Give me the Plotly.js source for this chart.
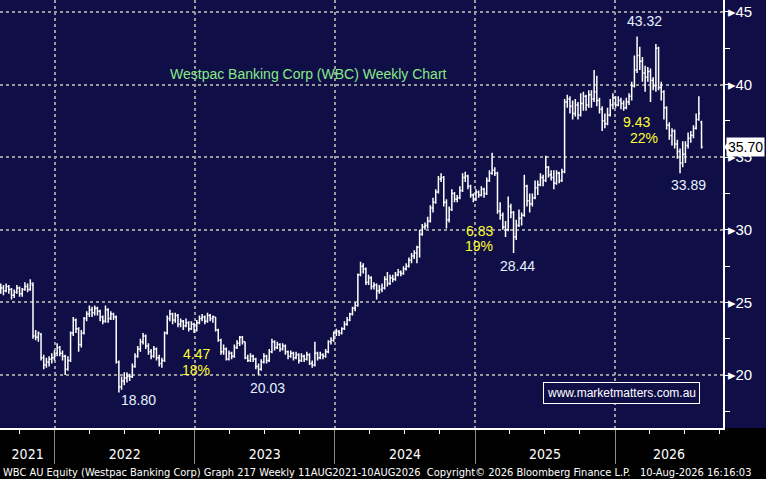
<!DOCTYPE html>
<html>
<head>
<meta charset="utf-8">
<script src="https://cdn.plot.ly/plotly-3.0.1.min.js"></script>
<style>
  html, body { margin: 0; padding: 0; background: #000; }
  #chart { width: 766px; height: 479px; }
</style>
</head>
<body>
<div id="chart"></div>
<script>
// weekly bars, first bar week ending 13 Aug 2021
const firstWeek = '2021-08-13'

const opens = [
  25.8,26.0,25.8,26.1,25.9,25.5,25.7,26.0,25.6,25.9,26.1,25.9,26.2,22.7,22.6,22.8,21.2,20.7,20.9,21.1,
  21.2,21.5,21.9,21.5,21.3,20.4,21.0,22.9,23.8,23.2,22.1,22.9,23.9,24.2,24.5,24.3,24.6,24.4,24.0,23.7,
  24.5,23.9,24.2,24.0,20.9,19.2,19.6,19.8,19.9,19.9,20.6,21.3,21.8,22.3,22.7,22.0,21.6,21.3,21.8,21.2,
  20.8,21.0,22.9,23.9,24.2,23.8,24.1,23.5,23.7,23.4,23.6,23.2,23.5,23.1,23.6,23.9,24.0,23.7,24.1,23.9,
  24.0,23.1,22.4,21.6,21.8,21.1,21.5,21.3,21.9,22.2,22.6,22.3,21.2,21.0,21.3,21.1,20.6,20.4,20.9,21.3,
  21.0,21.6,22.3,21.9,22.1,21.8,22.0,21.6,21.3,21.5,21.2,21.4,21.0,21.3,21.1,21.4,20.8,20.7,21.5,21.2,
  21.4,21.3,21.6,22.3,22.4,22.9,23.0,22.9,23.2,23.5,23.8,24.2,24.6,24.8,26.9,27.5,27.3,26.4,26.7,26.1,
  26.2,25.8,25.9,26.0,26.6,26.3,26.7,26.6,26.9,27.1,27.0,27.3,27.5,27.9,28.2,28.4,28.8,29.7,30.2,30.3,
  30.6,31.5,31.9,32.6,33.5,33.6,31.9,30.7,31.4,32.5,32.1,32.2,32.7,33.6,33.7,33.0,32.4,32.1,32.6,32.4,
  32.8,32.5,33.4,33.9,34.1,33.9,31.3,31.0,30.2,30.0,31.6,31.2,29.5,30.3,30.8,31.0,33.0,32.0,31.8,32.2,
  32.9,33.1,33.6,33.4,34.3,33.8,33.6,33.2,33.9,33.4,34.0,38.8,39.0,38.5,38.0,38.6,37.9,38.7,39.2,38.6,
  39.3,39.0,39.5,38.9,38.3,37.5,37.3,37.9,38.6,39.1,38.6,38.9,38.7,38.4,38.8,39.2,39.9,41.0,42.0,41.6,
  40.8,40.5,40.9,40.3,39.9,42.5,39.8,39.5,38.4,37.2,36.5,36.8,35.9,35.4,34.6,35.2,35.8,36.3,36.5,37.0,
  37.6,37.4
]
const highs = [
  26.3,26.2,26.3,26.2,26.0,25.9,26.2,26.1,26.0,26.4,26.3,26.6,26.4,23.1,23.0,22.9,21.4,21.2,21.3,21.5,
  21.7,22.2,22.0,21.7,21.4,21.3,23.0,24.0,23.9,23.3,23.1,24.0,24.4,24.8,24.7,24.8,24.7,24.5,24.1,24.8,
  24.6,24.4,24.3,24.1,21.0,19.9,20.2,20.2,20.1,20.8,21.5,22.0,22.5,22.9,22.8,22.2,21.8,22.0,21.9,21.4,
  21.2,23.0,24.1,24.5,24.3,24.3,24.2,23.9,23.8,23.9,23.7,23.7,23.6,23.8,24.1,24.2,24.1,24.3,24.2,24.1,
  24.0,23.2,22.5,22.1,21.9,21.7,21.6,22.1,22.4,22.7,22.7,22.3,21.4,21.5,21.4,21.2,20.8,21.1,21.5,21.4,
  21.8,22.5,22.4,22.3,22.2,22.2,22.1,21.7,21.7,21.6,21.6,21.5,21.5,21.4,21.6,21.5,21.0,22.3,21.6,21.6,
  21.5,21.8,22.4,22.6,23.0,23.2,23.1,23.3,23.7,24.0,24.3,24.7,25.0,27.0,27.8,27.7,27.4,26.9,26.8,26.4,
  26.3,26.2,26.3,26.8,27.1,26.9,26.9,27.1,27.3,27.2,27.5,27.7,28.1,28.4,28.6,28.9,30.0,30.4,30.5,30.9,
  31.7,32.2,32.8,33.7,33.9,33.7,32.1,31.6,32.8,32.6,32.4,33.0,33.9,34.0,33.8,33.1,32.5,32.8,32.7,33.0,
  32.9,33.6,34.1,35.3,34.3,34.0,31.9,31.2,30.6,32.3,31.8,31.3,30.7,31.4,31.2,33.8,33.1,32.5,32.5,33.4,
  33.4,33.9,33.8,35.1,34.4,34.1,34.1,34.1,34.0,34.2,39.0,39.3,39.2,38.9,39.0,38.8,39.4,39.5,39.3,39.6,
  39.6,41.0,40.6,39.1,38.5,38.0,38.4,39.0,39.4,39.2,39.2,39.1,38.9,39.1,39.4,40.2,42.0,43.3,42.6,41.9,
  41.3,41.2,41.1,40.5,42.8,42.6,40.2,39.6,38.5,37.4,37.0,36.9,36.2,35.6,36.1,36.1,36.7,36.8,37.2,38.0,
  39.2,37.5
]
const lows = [
  25.6,25.5,25.7,25.6,25.2,25.3,25.6,25.4,25.4,25.8,25.7,25.8,22.5,22.4,22.3,21.0,20.4,20.5,20.6,20.8,
  21.0,21.3,21.3,21.0,20.0,20.3,20.9,22.7,22.9,21.6,21.9,22.8,23.7,24.0,24.0,24.1,24.1,23.7,23.5,23.6,
  23.6,23.8,23.8,20.8,18.8,19.0,19.3,19.5,19.6,19.8,20.5,21.2,21.6,22.1,21.8,21.4,21.1,21.2,21.0,20.6,
  20.5,20.9,22.8,23.7,23.5,23.6,23.3,23.3,23.1,23.3,23.0,23.1,22.9,23.0,23.5,23.7,23.5,23.6,23.7,23.6,
  23.0,22.3,21.4,21.4,21.0,21.0,21.1,21.2,21.8,22.0,22.1,21.1,20.9,20.9,20.9,20.4,20.0,20.3,20.8,20.8,
  20.9,21.5,21.7,21.8,21.6,21.7,21.4,21.1,21.2,21.0,21.1,20.8,20.9,20.9,21.0,20.7,20.5,20.6,21.0,21.1,
  21.1,21.2,21.5,22.1,22.3,22.7,22.7,22.8,23.1,23.4,23.7,24.1,24.4,24.7,26.8,27.0,26.2,26.2,25.9,25.9,
  25.2,25.6,25.7,25.9,26.1,26.2,26.4,26.5,26.8,26.8,26.9,27.2,27.4,27.7,28.0,27.7,28.1,29.6,30.0,30.1,
  30.5,31.2,31.8,32.5,33.3,31.6,30.1,30.5,31.3,31.9,31.9,32.1,32.6,33.3,32.8,32.2,31.9,32.0,32.2,32.3,
  32.2,32.4,33.3,33.8,33.7,31.1,30.7,30.0,29.5,29.9,30.8,28.4,29.3,30.2,30.3,30.9,31.6,31.2,31.6,32.1,
  32.4,33.0,33.0,33.3,33.6,33.4,32.8,33.1,33.2,33.3,33.9,38.4,38.0,37.6,37.8,37.6,37.8,38.2,38.2,38.4,
  38.4,38.8,38.5,38.0,36.8,37.0,37.2,37.8,38.3,38.4,38.5,38.3,38.2,38.3,38.6,38.9,39.8,40.8,41.0,40.2,
  39.5,40.2,38.8,39.6,39.5,39.6,38.9,37.6,36.9,36.2,35.8,35.6,34.9,33.9,34.3,34.6,35.6,36.0,36.3,36.9,
  37.5,35.6
]
const closes = [
  26.0,25.8,26.1,25.9,25.5,25.7,26.0,25.6,25.9,26.1,25.9,26.3,22.7,22.6,22.9,21.2,20.7,20.9,21.1,21.2,
  21.5,21.9,21.5,21.3,20.4,21.0,22.9,23.8,23.2,22.1,22.9,23.9,24.2,24.5,24.3,24.6,24.4,24.0,23.7,24.5,
  23.9,24.2,24.0,20.9,19.2,19.6,19.8,19.9,19.9,20.6,21.3,21.8,22.3,22.7,22.0,21.6,21.3,21.8,21.2,20.8,
  21.0,22.9,23.9,24.2,23.8,24.1,23.5,23.7,23.4,23.6,23.2,23.5,23.1,23.6,23.9,24.0,23.7,24.1,23.9,24.0,
  23.1,22.4,21.6,21.8,21.1,21.5,21.3,21.9,22.2,22.6,22.3,21.2,21.0,21.3,21.1,20.6,20.4,20.9,21.3,21.0,
  21.6,22.3,21.9,22.1,21.8,22.0,21.6,21.3,21.5,21.2,21.4,21.0,21.3,21.1,21.4,20.8,20.7,21.5,21.2,21.4,
  21.3,21.6,22.3,22.4,22.9,23.0,22.9,23.2,23.5,23.8,24.2,24.6,24.8,26.9,27.5,27.3,26.4,26.7,26.1,26.2,
  25.8,25.9,26.0,26.6,26.3,26.7,26.6,26.9,27.1,27.0,27.3,27.5,27.9,28.2,28.4,28.8,29.7,30.2,30.3,30.6,
  31.5,31.9,32.6,33.5,33.6,31.9,30.7,31.4,32.5,32.1,32.2,32.7,33.6,33.7,33.0,32.4,32.1,32.6,32.4,32.8,
  32.5,33.4,33.9,34.1,33.9,31.3,31.0,30.2,30.0,31.6,31.2,29.5,30.3,30.8,31.0,33.0,32.0,31.8,32.2,32.9,
  33.1,33.6,33.4,34.3,33.8,33.6,33.2,33.9,33.4,34.0,38.8,39.0,38.5,38.0,38.6,37.9,38.7,39.2,38.6,39.3,
  39.0,39.5,38.9,38.3,37.5,37.3,37.9,38.6,39.1,38.6,38.9,38.7,38.4,38.8,39.2,39.9,41.0,42.0,41.6,40.8,
  40.5,40.9,40.3,39.9,42.5,39.8,39.5,38.4,37.2,36.5,36.8,35.9,35.4,34.6,35.2,35.8,36.3,36.5,37.0,37.6,
  38.0,35.7
]

const yearLabels = ['2021', '2022', '2023', '2024', '2025', '2026']
const yearLabelPos = ['2021-10-22', '2022-07-02', '2023-07-02', '2024-07-02', '2025-07-02', '2026-05-21']
const yearStarts = ['2022-01-01', '2023-01-01', '2024-01-01', '2025-01-01', '2026-01-01']
const priceTicks = [20, 25, 30, 35, 40, 45]

// chart notes: [text, date, price, colour]
const notes = [
  ['43.32', '2026-03-18', 44.38, '#e6f2ff'],
  ['9.43',  '2026-02-26', 37.45, '#ffff33'],
  ['22%',   '2026-03-16', 36.35, '#ffff33'],
  ['33.89', '2026-07-11', 33.12, '#e6f2ff'],
  ['6.83',  '2025-01-11', 29.89, '#ffff33'],
  ['19%',   '2025-01-11', 28.86, '#ffff33'],
  ['28.44', '2025-04-22', 27.49, '#e6f2ff'],
  ['4.47',  '2023-01-05', 21.44, '#ffff33'],
  ['18%',   '2023-01-05', 20.34, '#ffff33'],
  ['18.80', '2022-08-07', 18.28, '#e6f2ff'],
  ['20.03', '2023-07-09', 19.11, '#e6f2ff']
]

const dates = opens.map(function (v, i) {
  const d = new Date(firstWeek + 'T00:00:00Z')
  d.setUTCDate(d.getUTCDate() + 7 * i)
  return d.toISOString().slice(0, 10)
})

const lastPrice = closes[closes.length - 1]
const navy = '#100e46'
const gridGrey = '#9a9a9a'
const narrow = '"DejaVu Sans Condensed", "Liberation Sans Narrow", sans-serif'
const sans = '"Liberation Sans", Arial, sans-serif'
const xRange = ['2021-08-11', '2026-10-09']

const bars = {
  type: 'ohlc',
  x: dates,
  open: opens,
  high: highs,
  low: lows,
  close: closes,
  increasing: {line: {color: '#ffffff', width: 1.5}},
  decreasing: {line: {color: '#ffffff', width: 1.5}},
  tickwidth: 0.45,
  hoverinfo: 'skip'
}
// empty trace so the year-label axis gets drawn
const yearAxisHolder = {
  type: 'scatter', mode: 'none', xaxis: 'x2', yaxis: 'y',
  x: yearLabelPos, y: yearLabelPos.map(function () { return null }),
  hoverinfo: 'skip'
}

var annotations = notes.map(function (n) {
  return {
    text: n[0], x: n[1], y: n[2], xref: 'x', yref: 'y',
    showarrow: false, font: {family: sans, size: 14, color: n[3]}
  }
})
annotations.push({
  text: 'Westpac Banking Corp (WBC) Weekly Chart',
  xref: 'paper', yref: 'paper', x: 0.427, y: 0.827, xanchor: 'center', yanchor: 'middle',
  showarrow: false, font: {family: sans, size: 14, color: '#86ea86'}
})
annotations.push({
  text: 'www.marketmatters.com.au',
  xref: 'paper', yref: 'paper', x: 0.860, y: 0.082, xanchor: 'center', yanchor: 'middle',
  showarrow: false, font: {family: sans, size: 12, color: '#ffffff'},
  bordercolor: '#ffffff', borderwidth: 1, borderpad: 3, bgcolor: navy
})
annotations.push({
  text: lastPrice.toFixed(2),
  xref: 'paper', yref: 'y', x: 1, y: lastPrice, xanchor: 'left', yanchor: 'middle', xshift: 3,
  showarrow: false, bgcolor: '#ffffff', borderpad: 1,
  font: {family: sans, size: 14, color: '#000000'}
})
annotations.push({
  text: 'WBC AU Equity (Westpac Banking Corp) Graph 217 Weekly 11AUG2021-10AUG2026&nbsp;&nbsp;Copyright\u00a9 2026 Bloomberg Finance L.P.&nbsp;&nbsp;&nbsp;10-Aug-2026 16:16:03',
  xref: 'paper', yref: 'paper', x: 0, y: -0.103, xanchor: 'left', yanchor: 'middle', xshift: 1,
  showarrow: false, font: {family: narrow, size: 11, color: '#ffffff'}
})

const layout = {
  width: 766,
  height: 479,
  margin: {l: 0, r: 43, t: 0, b: 51},
  paper_bgcolor: navy,
  plot_bgcolor: navy,
  showlegend: false,
  hovermode: false,
  xaxis: {
    type: 'date',
    range: xRange,
    rangeslider: {visible: false},
    tickmode: 'array',
    tickvals: yearStarts,
    showticklabels: false,
    ticks: 'outside', ticklen: 34, tickcolor: '#8a8a8a', tickwidth: 1,
    showgrid: true, gridcolor: gridGrey, griddash: 'dot', gridwidth: 2,
    showline: true, linecolor: '#ffffff', linewidth: 1.5,
    zeroline: false,
    minor: {tickmode: 'linear', tick0: '2021-01-01', dtick: 'M3', ticks: 'outside',
            ticklen: 4, tickcolor: '#ffffff', tickwidth: 1, showgrid: false}
  },
  xaxis2: {
    type: 'date',
    overlaying: 'x',
    anchor: 'y',
    side: 'bottom',
    range: xRange,
    tickmode: 'array',
    tickvals: yearLabelPos,
    ticktext: yearLabels,
    ticks: 'outside', ticklen: 13, tickcolor: 'rgba(0,0,0,0)',
    tickfont: {family: narrow, size: 14, color: '#ffffff'},
    showgrid: false, showline: false, zeroline: false
  },
  yaxis: {
    side: 'right',
    range: [16.36, 45.82],
    tickmode: 'array',
    tickvals: priceTicks,
    ticktext: priceTicks.map(function (v) { return '\u25B8' + v }),
    tickfont: {family: sans, size: 15, color: '#ffffff'},
    ticks: '',
    showgrid: true, gridcolor: gridGrey, griddash: 'dot', gridwidth: 2,
    showline: true, linecolor: '#ffffff', linewidth: 1.5,
    zeroline: false,
    minor: {tickmode: 'linear', tick0: 0, dtick: 2.5, ticks: 'outside',
            ticklen: 5, tickcolor: '#ffffff', tickwidth: 1, showgrid: false}
  },
  shapes: [
    {type: 'rect', xref: 'paper', yref: 'paper', x0: -0.05, x1: 1.2, y0: -0.3, y1: 0,
     fillcolor: '#000000', line: {width: 0}, layer: 'below'},
    {type: 'path', xref: 'paper', yref: 'y', xsizemode: 'pixel', ysizemode: 'pixel',
     xanchor: 1, yanchor: lastPrice, path: 'M 1 0 L 8 -9 L 8 9 Z',
     fillcolor: '#ffffff', line: {width: 0}}
  ],
  annotations: annotations
}

Plotly.newPlot('chart', [bars, yearAxisHolder], layout, {displayModeBar: false, staticPlot: true})
</script>
</body>
</html>
